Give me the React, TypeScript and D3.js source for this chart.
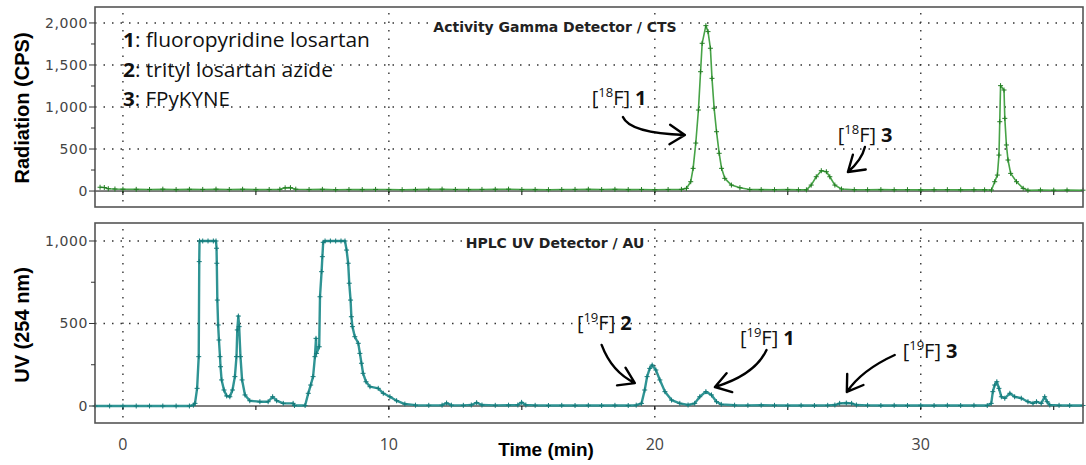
import React from "react";
import * as d3 from "d3";

// Radiation detector trace: [time (min), counts per second]
const radiationTrace: [number, number][] = [
  [-0.86, 45], [-0.7, 42], [-0.55, 28], [-0.3, 24], [0, 22], [0.5, 20], [1, 18], [1.5, 22], [2, 17],
  [2.5, 20], [3, 19], [3.5, 22], [4, 18], [4.5, 21], [5, 17], [5.5, 18], [5.9, 20], [6.1, 38],
  [6.3, 40], [6.5, 22], [7, 18], [7.5, 20], [8, 16], [8.5, 18], [9, 17], [9.5, 19], [10, 18],
  [10.5, 16], [11, 17], [11.5, 20], [12, 22], [12.5, 18], [13, 17], [13.5, 19], [14, 20],
  [14.5, 22], [15, 18], [15.5, 17], [16, 16], [16.5, 18], [17, 19], [17.5, 21], [18, 18],
  [18.5, 20], [19, 17], [19.5, 18], [20, 16], [20.5, 18], [21, 20], [21.19, 32], [21.35, 111],
  [21.44, 270], [21.54, 571], [21.64, 964], [21.72, 1420], [21.78, 1758], [21.92, 1968],
  [22.0, 1897], [22.09, 1699], [22.15, 1341], [22.23, 985], [22.32, 706], [22.42, 449],
  [22.51, 270], [22.63, 151], [22.88, 71], [23.2, 40], [23.57, 18], [24, 17], [24.5, 16],
  [25, 18], [25.4, 15], [25.7, 14], [25.88, 71], [26.07, 170], [26.26, 242], [26.45, 230],
  [26.58, 170], [26.77, 71], [27.02, 24], [27.5, 16], [28, 15], [28.5, 17], [29, 15], [29.5, 16],
  [30, 14], [30.5, 15], [31, 16], [31.5, 14], [32, 15], [32.4, 14], [32.66, 12], [32.78, 111],
  [32.88, 190], [32.94, 428], [32.97, 825], [33.0, 1254], [33.13, 1202], [33.16, 865],
  [33.22, 548], [33.28, 369], [33.38, 210], [33.6, 111], [33.85, 32], [34.03, 8], [34.5, 12],
  [35, 10], [35.5, 11], [36.1, 10],
];

// UV detector trace at 254 nm: [time (min), absorbance units]
const uvTrace: [number, number][] = [
  [-1.05, 0], [-0.5, 0], [0, 0], [0.5, 0], [1, 0], [1.5, 0], [2, 0], [2.5, 0], [2.65, 5],
  [2.71, 16], [2.79, 107], [2.85, 299], [2.87, 875], [2.88, 1000], [3.0, 1000], [3.2, 1000],
  [3.4, 1000], [3.5, 1000], [3.52, 956], [3.53, 865], [3.55, 642], [3.58, 491], [3.61, 400],
  [3.65, 299], [3.67, 238], [3.71, 158], [3.8, 97], [3.9, 61], [4.02, 56], [4.12, 97],
  [4.21, 178], [4.27, 299], [4.3, 461], [4.34, 545], [4.37, 481], [4.42, 299], [4.48, 158],
  [4.59, 67], [4.77, 32], [5.15, 26], [5.46, 26], [5.63, 56], [5.78, 32], [6.03, 16], [6.4, 16],
  [6.45, 3], [6.85, 3], [6.97, 77], [7.06, 127], [7.15, 178], [7.22, 299], [7.26, 410],
  [7.28, 319], [7.38, 359], [7.41, 662], [7.47, 814], [7.5, 905], [7.53, 992], [7.6, 1000],
  [7.8, 1000], [8.0, 1000], [8.2, 1000], [8.35, 1000], [8.41, 945], [8.47, 865], [8.51, 744],
  [8.56, 642], [8.59, 541], [8.63, 481], [8.72, 420], [8.85, 380], [8.91, 319], [8.97, 259],
  [9.03, 198], [9.14, 147], [9.29, 117], [9.6, 107], [9.79, 77], [10.04, 56], [10.29, 32],
  [10.6, 12], [11, 5], [11.5, 4], [12, 5], [12.17, 18], [12.35, 5], [12.8, 4], [13.1, 6],
  [13.3, 20], [13.5, 6], [14, 4], [14.5, 5], [14.85, 6], [14.99, 22], [15.15, 6], [15.5, 4],
  [16, 3], [16.5, 4], [17, 3], [17.5, 4], [18, 3], [18.5, 4], [19, 3], [19.3, 5], [19.5, 16],
  [19.62, 97], [19.71, 178], [19.81, 228], [19.9, 248], [20.04, 218], [20.19, 158], [20.38, 87],
  [20.63, 36], [20.94, 16], [21.25, 6], [21.5, 16], [21.69, 56], [21.92, 87], [22.13, 67],
  [22.32, 26], [22.5, 10], [23, 5], [23.5, 4], [24, 5], [24.5, 4], [25, 3], [25.5, 4], [26, 3],
  [26.5, 4], [26.77, 6], [26.95, 16], [27.2, 18], [27.4, 16], [27.58, 6], [28, 4], [28.5, 3],
  [29, 4], [29.5, 3], [30, 4], [30.5, 3], [31, 4], [31.5, 3], [32, 4], [32.5, 3], [32.65, 16],
  [32.71, 87], [32.78, 127], [32.86, 147], [32.94, 107], [33.03, 56], [33.16, 47], [33.35, 77],
  [33.53, 56], [33.78, 47], [34.03, 26], [34.22, 16], [34.35, 26], [34.53, 16], [34.66, 56],
  [34.75, 26], [34.85, 6], [35.2, 4], [35.6, 3], [36.1, 3],
];

const timeTicks = [0, 10, 20, 30];
const timeMinorTicks = [0, 5, 10, 15, 20, 25, 30, 35];
const radiationTicks = [0, 500, 1000, 1500, 2000];
const radiationMinorTicks = [250, 750, 1250, 1750];
const uvTicks = [0, 500, 1000];
const uvMinorTicks = [250, 750];

const legendNumbers = ["1", "2", "3"];
const legendNames = ["fluoropyridine losartan", "trityl losartan azide", "FPyKYNE"];
const legendWidths = [247, 210, 107];

type Pt = [number, number];
type Note = { panel: "top" | "bottom"; iso: string; num: string; at: Pt; from: Pt; ctrl: Pt; to: Pt };

// Peak labels, positioned in data units (time, signal)
const notes: Note[] = [
  { panel: "top", iso: "18", num: "1", at: [17.63, 1024], from: [18.8, 881], ctrl: [19.06, 690], to: [21.13, 667] },
  { panel: "top", iso: "18", num: "3", at: [26.88, 583], from: [27.9, 524], ctrl: [27.78, 369], to: [27.26, 226] },
  { panel: "bottom", iso: "19", num: "2", at: [17.07, 461], from: [18.0, 370], ctrl: [18.38, 206], to: [19.25, 139] },
  { panel: "bottom", iso: "19", num: "1", at: [23.2, 370], from: [24.2, 339], ctrl: [23.76, 188], to: [22.26, 115] },
  { panel: "bottom", iso: "19", num: "3", at: [29.32, 291], from: [29.02, 309], ctrl: [27.78, 218], to: [27.22, 85] },
];

const W = 1086;
const H = 465;
const LEFT = 95;
const RIGHT = 1083;
const TOP_PANEL = { top: 7, bottom: 207 };
const BOTTOM_PANEL = { top: 223, bottom: 423 };

const x = d3.scaleLinear().domain([-1.05, 36.1]).range([LEFT, RIGHT]);
const yRad = d3.scaleLinear().domain([-190, 2190]).range([TOP_PANEL.bottom, TOP_PANEL.top]);
const yUv = d3.scaleLinear().domain([-103, 1109]).range([BOTTOM_PANEL.bottom, BOTTOM_PANEL.top]);

const tickFont = "'DejaVu Sans', sans-serif";
const labelFont = "'Liberation Sans', Arial, sans-serif";
const noteFont = "'Open Sans', sans-serif";
const DOTS = "1.5 7";

function Panel(props: {
  y: d3.ScaleLinear<number, number>;
  box: { top: number; bottom: number };
  ticks: number[];
  minor: number[];
  data: Pt[];
  line: string;
  marker: string;
  width: number;
  title: string;
  titleY: number;
  titleWidth: number;
}) {
  const { y, box, ticks, minor, data, line, marker, width, title, titleY, titleWidth } = props;
  const path = d3
    .line<Pt>()
    .x((d) => x(d[0]))
    .y((d) => y(d[1]))(data) as string;
  const fmt = d3.format(",");
  const y0 = y(0);
  const cx = 555;
  return (
    <g>
      {/* dotted grid */}
      {ticks
        .filter((t) => t !== 0)
        .map((t) => (
          <line key={"h" + t} x1={LEFT} x2={RIGHT} y1={y(t)} y2={y(t)} stroke="#333" strokeWidth={1.4} strokeDasharray={DOTS} />
        ))}
      <rect x={cx - titleWidth / 2 - 3} y={titleY - 12} width={titleWidth + 6} height={15} fill="#fff" />
      {timeTicks.map((t) => (
        <line key={"v" + t} x1={x(t)} x2={x(t)} y1={box.top + 6} y2={box.bottom - 4} stroke="#333" strokeWidth={1.4} strokeDasharray={DOTS} />
      ))}
      <text x={cx} y={titleY} textAnchor="middle" fontFamily={tickFont} fontWeight="bold" fontSize={14} fill="#222">
        {title}
      </text>
      {/* zero line and its ticks */}
      <line x1={LEFT} x2={RIGHT} y1={y0} y2={y0} stroke="#000" strokeWidth={1} />
      {timeMinorTicks.map((t) => (
        <line key={"xt" + t} x1={x(t)} x2={x(t)} y1={y0} y2={y0 + 4} stroke="#000" strokeWidth={1} />
      ))}
      {/* trace */}
      <path d={path} fill="none" stroke={line} strokeWidth={width} strokeLinejoin="round" />
      {data.map((d, i) => (
        <path
          key={"m" + i}
          transform={`translate(${x(d[0])},${y(d[1])})`}
          d="M-2.5,0H2.5M0,-2.5V2.5"
          stroke={marker}
          strokeWidth={1}
        />
      ))}
      {/* frame */}
      <rect x={LEFT} y={box.top} width={RIGHT - LEFT} height={box.bottom - box.top} fill="none" stroke="#555" strokeWidth={1.6} />
      {/* y axis */}
      {ticks.map((t) => (
        <g key={"yt" + t}>
          <line x1={LEFT - 6} x2={LEFT} y1={y(t)} y2={y(t)} stroke="#333" strokeWidth={1} />
          <text x={88} y={y(t) + 5} textAnchor="end" fontFamily={tickFont} fontSize={14} fill="#444" letterSpacing={0.6}>
            {fmt(t)}
          </text>
        </g>
      ))}
      {minor.map((t) => (
        <line key={"ym" + t} x1={LEFT - 4} x2={LEFT} y1={y(t)} y2={y(t)} stroke="#333" strokeWidth={1} />
      ))}
    </g>
  );
}

function Arrow({ n }: { n: Note }) {
  const y = n.panel === "top" ? yRad : yUv;
  const p0: Pt = [x(n.from[0]), y(n.from[1])];
  const c: Pt = [x(n.ctrl[0]), y(n.ctrl[1])];
  const p1: Pt = [x(n.to[0]), y(n.to[1])];
  const ang = Math.atan2(p1[1] - c[1], p1[0] - c[0]) + Math.PI;
  const len = 18;
  const spread = (33 * Math.PI) / 180;
  const w1: Pt = [p1[0] + len * Math.cos(ang + spread), p1[1] + len * Math.sin(ang + spread)];
  const w2: Pt = [p1[0] + len * Math.cos(ang - spread), p1[1] + len * Math.sin(ang - spread)];
  const tx = x(n.at[0]);
  const ty = y(n.at[1]);
  return (
    <g>
      <path
        d={`M${p0[0]},${p0[1]}Q${c[0]},${c[1]} ${p1[0]},${p1[1]}M${w1[0]},${w1[1]}L${p1[0]},${p1[1]}L${w2[0]},${w2[1]}`}
        fill="none"
        stroke="#000"
        strokeWidth={2.4}
        strokeLinecap="round"
        strokeLinejoin="round"
      />
      <text x={tx} y={ty} fontFamily={noteFont} fontSize={20} fill="#111">
        [<tspan fontSize={13} dy={-8}>{n.iso}</tspan>
        <tspan dy={8}>F]</tspan>
        <tspan dx={5} fontWeight="bold">{n.num}</tspan>
      </text>
    </g>
  );
}

export default function App() {
  return (
    <svg width={W} height={H} style={{ position: "absolute", left: 0, top: 0, background: "#fff" }}>
      <rect width={W} height={H} fill="#fff" />
      <Panel
        y={yRad}
        box={TOP_PANEL}
        ticks={radiationTicks}
        minor={radiationMinorTicks}
        data={radiationTrace}
        line="#47a347"
        marker="#237d23"
        width={1.6}
        title="Activity Gamma Detector / CTS"
        titleY={32}
        titleWidth={243}
      />
      <Panel
        y={yUv}
        box={BOTTOM_PANEL}
        ticks={uvTicks}
        minor={uvMinorTicks}
        data={uvTrace}
        line="#2f9494"
        marker="#147a7a"
        width={2.4}
        title="HPLC UV Detector / AU"
        titleY={248}
        titleWidth={179}
      />
      {legendNumbers.map((num, i) => (
        <text
          key={num}
          x={x(0)}
          y={47 + i * 29.5}
          fontFamily={noteFont}
          fontSize={20}
          fill="#111"
          textLength={legendWidths[i]}
          lengthAdjust="spacingAndGlyphs"
        >
          <tspan fontWeight="bold">{num}</tspan>: {legendNames[i]}
        </text>
      ))}
      {notes.map((n, i) => (
        <Arrow key={i} n={n} />
      ))}
      {/* time axis labels */}
      {timeTicks.map((t) => (
        <text key={"xl" + t} x={x(t)} y={450} textAnchor="middle" fontFamily={noteFont} fontSize={16} fill="#444">
          {t}
        </text>
      ))}
      <text x={546} y={456} textAnchor="middle" fontFamily={labelFont} fontWeight="bold" fontSize={19} fill="#000">
        Time (min)
      </text>
      <text transform="translate(29,108) rotate(-90)" textAnchor="middle" fontFamily={labelFont} fontWeight="bold" fontSize={20} fill="#000">
        Radiation (CPS)
      </text>
      <text transform="translate(29,325) rotate(-90)" textAnchor="middle" fontFamily={labelFont} fontWeight="bold" fontSize={20} fill="#000">
        UV (254 nm)
      </text>
    </svg>
  );
}
